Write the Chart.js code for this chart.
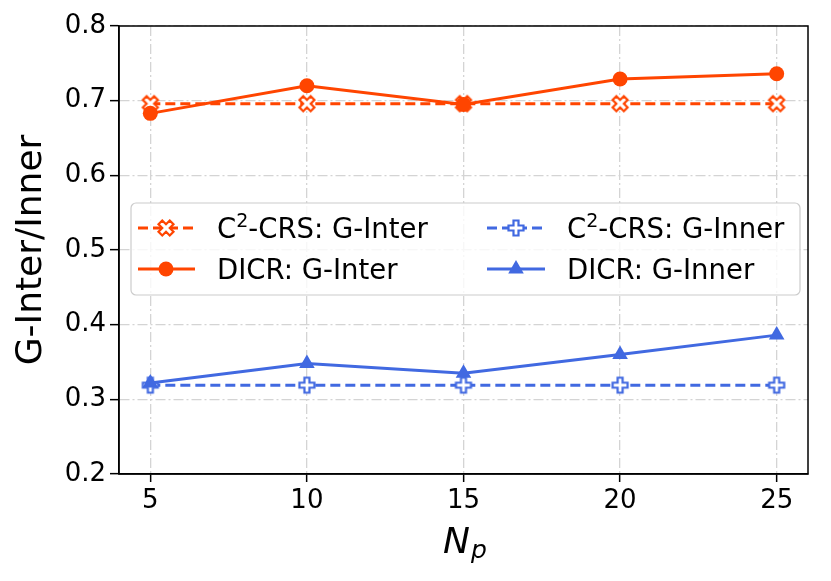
<!DOCTYPE html>
<html><head><meta charset="utf-8">
<script src="https://cdn.jsdelivr.net/npm/chart.js@4"></script>
<style>html,body{margin:0;padding:0;background:#fff;} #wrap{width:831px;height:581px;position:relative;}</style>
</head><body><div id="wrap"><canvas id="c" width="831" height="581"></canvas></div>
<script>
// ---- data ----
const npValues   = [5, 10, 15, 20, 25];
const c2crsInter = [0.696, 0.696, 0.696, 0.696, 0.696];
const dicrInter  = [0.683, 0.720, 0.695, 0.729, 0.736];
const c2crsInner = [0.319, 0.319, 0.319, 0.319, 0.319];
const dicrInner  = [0.322, 0.348, 0.335, 0.360, 0.386];
const xTicks = [5, 10, 15, 20, 25];
const yTicks = [0.2, 0.3, 0.4, 0.5, 0.6, 0.7, 0.8];
const yTitle = 'G-Inter/Inner';
const xTitleMain = 'N';
const xTitleSub = 'p';
const legendLabels = [
  {pre: 'C', sup: '2', post: '-CRS: G-Inter'},
  {pre: 'DICR: G-Inter', sup: '', post: ''},
  {pre: 'C', sup: '2', post: '-CRS: G-Inner'},
  {pre: 'DICR: G-Inner', sup: '', post: ''}
];

const ORANGE = '#FF4500';
const BLUE = '#4169E1';
const FONT = "'DejaVu Sans', sans-serif";
Chart.defaults.font.family = FONT;

function makeMarker(kind, color, R) {
  const size = 2 * Math.ceil(R + 2);
  const cv = document.createElement('canvas');
  cv.width = size; cv.height = size;
  const g = cv.getContext('2d');
  g.translate(size / 2, size / 2);
  let pts;
  if (kind === 'plus') {
    const u = R / 3;
    pts = [[-1,-3],[1,-3],[1,-1],[3,-1],[3,1],[1,1],[1,3],[-1,3],[-1,1],[-3,1],[-3,-1],[-1,-1]].map(p => [p[0]*u, p[1]*u]);
  } else {
    const u = R / 2;
    pts = [[-1,-2],[0,-1],[1,-2],[2,-1],[1,0],[2,1],[1,2],[0,1],[-1,2],[-2,1],[-1,0],[-2,-1]].map(p => [p[0]*u, p[1]*u]);
  }
  g.beginPath();
  pts.forEach((p, i) => i ? g.lineTo(p[0], p[1]) : g.moveTo(p[0], p[1]));
  g.closePath();
  g.fillStyle = '#fff'; g.fill();
  g.lineWidth = 2.2; g.strokeStyle = color; g.lineJoin = 'miter'; g.stroke();
  return cv;
}
const xMarker = makeMarker('x', ORANGE, 7.5);
const plusMarker = makeMarker('plus', BLUE, 7.5);

const toPts = arr => npValues.map((x, i) => ({x: x, y: arr[i]}));

const datasets = [
  {label: 'C2-CRS: G-Inter', data: toPts(c2crsInter), borderColor: ORANGE, borderWidth: 3, borderDash: [10, 5],
   pointStyle: xMarker, pointRadius: 8, order: 2},
  {label: 'DICR: G-Inter', data: toPts(dicrInter), borderColor: ORANGE, borderWidth: 3,
   pointStyle: 'circle', pointRadius: 7.5, pointBackgroundColor: ORANGE, pointBorderColor: ORANGE, pointBorderWidth: 0, order: 1},
  {label: 'C2-CRS: G-Inner', data: toPts(c2crsInner), borderColor: BLUE, borderWidth: 3, borderDash: [10, 5],
   pointStyle: plusMarker, pointRadius: 8, order: 2},
  {label: 'DICR: G-Inner', data: toPts(dicrInner), borderColor: BLUE, borderWidth: 3,
   pointStyle: 'triangle', pointRadius: 9, pointBackgroundColor: BLUE, pointBorderColor: BLUE, pointBorderWidth: 0, order: 1}
];

const framePlugin = {
  id: 'frame',
  afterDatasetsDraw(chart) {
    const {ctx, chartArea: a} = chart;
    ctx.save();
    ctx.strokeStyle = '#000'; ctx.lineWidth = 1.5;
    ctx.strokeRect(a.left, a.top, a.right - a.left, a.bottom - a.top);
    ctx.restore();
  }
};

const extrasPlugin = {
  id: 'extras',
  afterDraw(chart) {
    const {ctx, chartArea: a} = chart;
    ctx.save();
    // x title N_p
    ctx.fillStyle = '#000';
    ctx.textBaseline = 'alphabetic';
    ctx.font = 'italic 36px ' + FONT;
    const wN = ctx.measureText(xTitleMain).width;
    ctx.font = 'italic 25px ' + FONT;
    const wp = ctx.measureText(xTitleSub).width;
    const cx = (a.left + a.right) / 2 + 1;
    const x0 = cx - (wN + wp) / 2;
    ctx.font = 'italic 36px ' + FONT;
    ctx.fillText(xTitleMain, x0, 553);
    ctx.font = 'italic 25px ' + FONT;
    ctx.fillText(xTitleSub, x0 + wN + 1, 558);

    // legend
    const bx = 131, by = 203, bw = 669, bh = 92, r = 5;
    ctx.beginPath();
    ctx.moveTo(bx + r, by);
    ctx.arcTo(bx + bw, by, bx + bw, by + bh, r);
    ctx.arcTo(bx + bw, by + bh, bx, by + bh, r);
    ctx.arcTo(bx, by + bh, bx, by, r);
    ctx.arcTo(bx, by, bx + bw, by, r);
    ctx.closePath();
    ctx.fillStyle = 'rgba(255,255,255,0.8)';
    ctx.fill();
    ctx.strokeStyle = '#cccccc'; ctx.lineWidth = 1.2; ctx.stroke();

    const rows = [228, 269];
    const cols = [{l0: 138, l1: 195, m: 166, t: 217}, {l0: 487, l1: 545, m: 516, t: 567}];
    const entries = [
      {ds: 0, col: 0, row: 0}, {ds: 1, col: 0, row: 1},
      {ds: 2, col: 1, row: 0}, {ds: 3, col: 1, row: 1}
    ];
    entries.forEach(e => {
      const d = datasets[e.ds];
      const c = cols[e.col], y = rows[e.row];
      ctx.save();
      ctx.strokeStyle = d.borderColor; ctx.lineWidth = 3;
      ctx.setLineDash(d.borderDash || []);
      ctx.beginPath(); ctx.moveTo(c.l0, y); ctx.lineTo(c.l1, y); ctx.stroke();
      ctx.restore();
      if (typeof d.pointStyle === 'object') {
        ctx.drawImage(d.pointStyle, c.m - d.pointStyle.width / 2, y - d.pointStyle.height / 2);
      } else if (d.pointStyle === 'circle') {
        ctx.fillStyle = d.borderColor;
        ctx.beginPath(); ctx.arc(c.m, y, 7.5, 0, Math.PI * 2); ctx.fill();
      } else {
        const R = 9;
        ctx.fillStyle = d.borderColor;
        ctx.beginPath();
        for (let k = 0; k < 3; k++) {
          const ang = k * 2 * Math.PI / 3;
          const px = c.m + Math.sin(ang) * R, py = y - Math.cos(ang) * R;
          k ? ctx.lineTo(px, py) : ctx.moveTo(px, py);
        }
        ctx.closePath(); ctx.fill();
      }
      const L = legendLabels[e.ds];
      ctx.fillStyle = '#000';
      ctx.textBaseline = 'alphabetic';
      let tx = c.t;
      const base = y + 10;
      ctx.font = '27.5px ' + FONT;
      ctx.fillText(L.pre, tx, base);
      tx += ctx.measureText(L.pre).width;
      if (L.sup) {
        ctx.font = '19px ' + FONT;
        ctx.fillText(L.sup, tx, base - 11);
        tx += ctx.measureText(L.sup).width;
        ctx.font = '27.5px ' + FONT;
        ctx.fillText(L.post, tx, base);
      }
    });
    ctx.restore();
  }
};

new Chart(document.getElementById('c'), {
  type: 'line',
  data: {datasets: datasets},
  options: {
    responsive: false,
    animation: false,
    events: [],
    layout: {padding: {top: 26, right: 23, left: 0, bottom: 0}},
    plugins: {legend: {display: false}, tooltip: {enabled: false}},
    scales: {
      x: {
        type: 'linear', min: 4, max: 26,
        afterBuildTicks: s => { s.ticks = xTicks.map(v => ({value: v})); },
        afterFit: s => { s.height = 107; },
        ticks: {font: {size: 26}, color: '#000', padding: 4, maxRotation: 0, autoSkip: false, callback: v => String(v)},
        grid: {color: '#d4d4d4', lineWidth: 1.3, drawTicks: true, tickLength: 8, tickColor: '#000', tickWidth: 1.5, tickBorderDash: []},
        border: {display: true, color: '#000', width: 1.5, dash: [10, 3, 2, 3]}
      },
      y: {
        type: 'linear', min: 0.2, max: 0.8,
        afterBuildTicks: s => { s.ticks = yTicks.map(v => ({value: v})); },
        afterFit: s => { s.width = 119; },
        ticks: {font: {size: 26}, color: '#000', padding: 4, autoSkip: false, callback: v => Number(v).toFixed(1)},
        grid: {color: '#d4d4d4', lineWidth: 1.3, drawTicks: true, tickLength: 9, tickColor: '#000', tickWidth: 1.5, tickBorderDash: []},
        border: {display: true, color: '#000', width: 1.5, dash: [10, 3, 2, 3]},
        title: {display: true, text: yTitle, color: '#000', font: {size: 36}, padding: {top: 10, bottom: 0}}
      }
    }
  },
  plugins: [framePlugin, extrasPlugin]
});
</script>
</body></html>
